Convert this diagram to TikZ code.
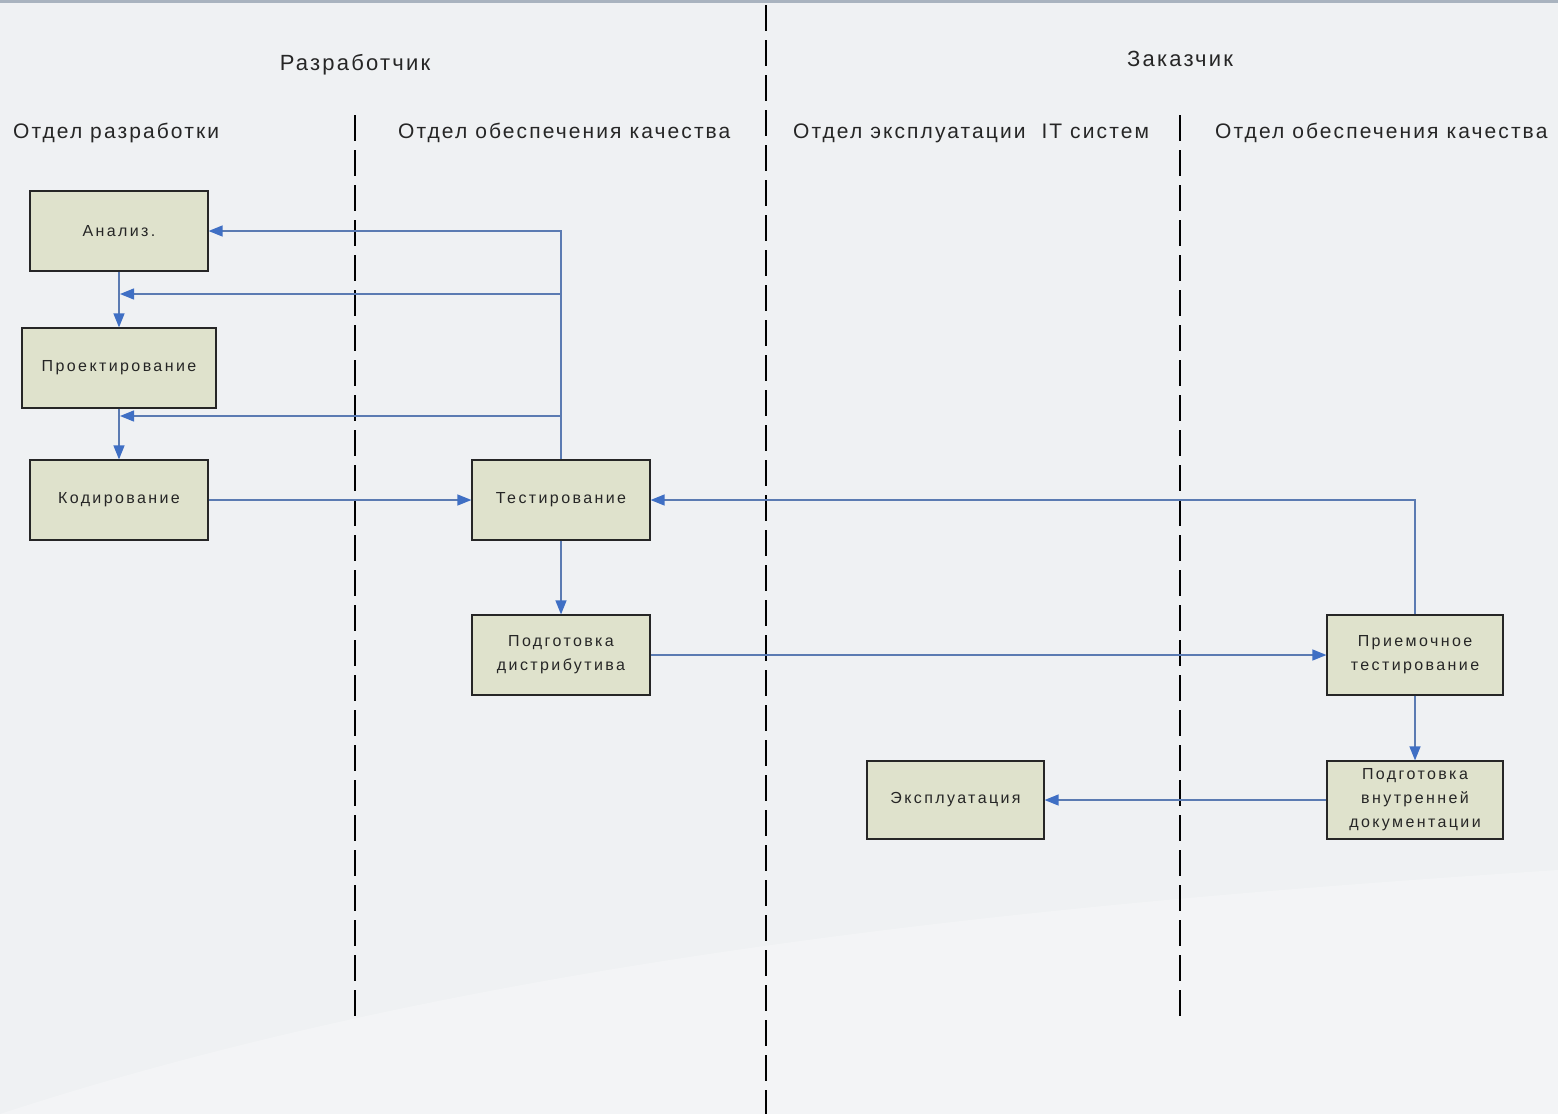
\documentclass[tikz,border=0pt]{standalone}
\usepackage{fontspec}
\setmainfont{Liberation Sans}
\newfontfamily\headfont[LetterSpace=10]{Liberation Sans}
\newfontfamily\boxfont[LetterSpace=15]{Liberation Sans}
\usetikzlibrary{arrows.meta,positioning}
\definecolor{bgcol}{HTML}{EFF1F3}
\definecolor{topstrip}{HTML}{A9B3BF}
\definecolor{boxfill}{HTML}{DFE2CC}
\definecolor{flowline}{HTML}{5B7BB2}
\definecolor{flowhead}{HTML}{3F6FC4}
\tikzset{
  stepbox/.style={draw=black!85, line width=1.2pt, fill=boxfill, minimum width=#1, minimum height=80pt,
    inner sep=0pt, align=center, font=\boxfont\fontsize{16}{24}\selectfont, text=black!85},
  stepbox/.default=178pt,
  lane/.style={line width=2.6pt, dash pattern=on 26pt off 9pt},
  flow/.style={draw=flowline, line width=1.3pt, -{Triangle[length=14pt,width=11pt,color=flowhead,fill=flowhead]}},
  header/.style={font=\headfont\fontsize{22}{24}\selectfont, text=black!85, inner sep=0pt, anchor=base},
  lanetitle/.style={font=\headfont\fontsize{21}{24}\selectfont, text=black!85, inner sep=0pt, anchor=base west}
}
\begin{document}
\begin{tikzpicture}[x=1pt,y=-1pt]
% page and background
\fill[bgcol] (0,0) rectangle (1558,1114);
\useasboundingbox (0,0) rectangle (1558,1114);
\fill[topstrip] (0,0) rectangle (1558,3);
\fill[white,opacity=0.25] (0,1114) .. controls (500,950) and (1100,900) .. (1558,870) -- (1558,1114) -- cycle;

% swimlane separators
\draw[lane] (355,115) -- (355,1022);
\draw[lane] (766,5) -- (766,1114);
\draw[lane] (1180,115) -- (1180,1022);

% pool and lane titles
\node[header] (dev) at (355,70) {Разработчик};
\node[header] (cust) at (1180,66) {Заказчик};
\node[lanetitle] (lane1) at (13,138) {Отдел разработки};
\node[lanetitle] (lane2) at (398,138) {Отдел обеспечения качества};
\node[lanetitle] (lane3) at (793,138) {Отдел эксплуатации\ \ IT систем};
\node[lanetitle] (lane4) at (1215,138) {Отдел обеспечения качества};

% process steps
\node[stepbox] (analysis) at (119,231) {Анализ.};
\node[stepbox=194pt] (design) at (119,368) {Проектирование};
\node[stepbox] (coding) at (119,500) {Кодирование};
\node[stepbox] (testing) at (561,500) {Тестирование};
\node[stepbox] (distrib) at (561,655) {Подготовка\\дистрибутива};
\node[stepbox=176pt] (accept) at (1415,655) {Приемочное\\тестирование};
\node[stepbox=176pt, minimum height=78pt] (docs) at (1415,800) {Подготовка\\внутренней\\документации};
\node[stepbox=177pt, minimum height=78pt] (operate) at (955.5,800) {Эксплуатация};

% returns from testing
\coordinate (retA) at (119,294);
\coordinate (retB) at (119,416);
\draw[flow] (testing.north) |- (analysis.east);
\draw[flow] (testing.north |- retA) -- ([xshift=1pt]retA);
\draw[flow] (testing.north |- retB) -- ([xshift=1pt]retB);

% main flow
\draw[flow] (analysis.south) -- (design.north -| analysis.south);
\draw[flow] (design.south -| analysis.south) -- (coding.north);
\draw[flow] (coding.east) -- (testing.west);
\draw[flow] (testing.south) -- (distrib.north);
\draw[flow] (distrib.east) -- (accept.west);
\draw[flow] (accept.north) |- (testing.east);
\draw[flow] (accept.south) -- (docs.north);
\draw[flow] (docs.west) -- (operate.east);
\end{tikzpicture}
\end{document}
